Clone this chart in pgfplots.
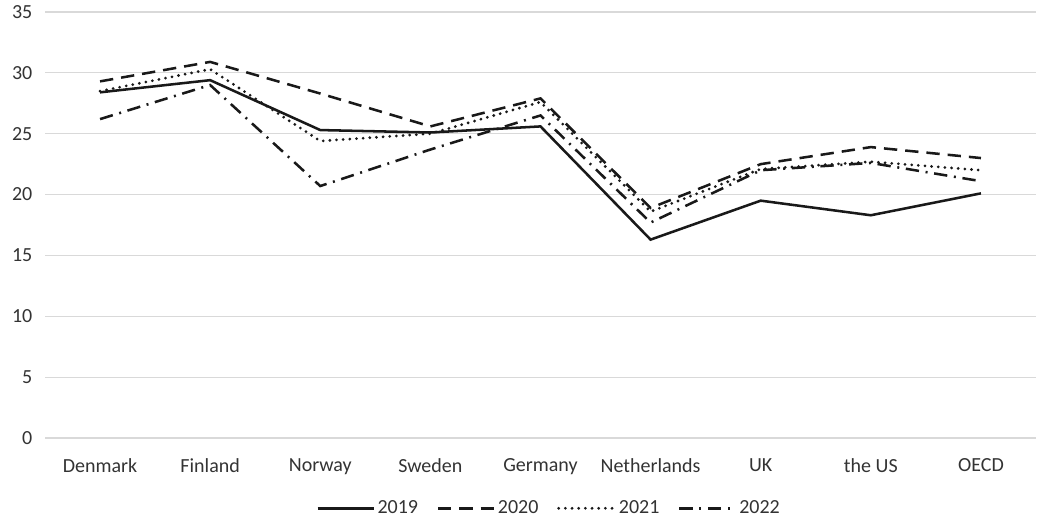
\documentclass[border=0pt]{standalone}
\usepackage{fontspec}
\setmainfont{Carlito}
\usepackage{pgfplots}
\pgfplotsset{compat=1.18}

\begin{document}
\begin{tikzpicture}
\useasboundingbox (-33.75pt,-63pt) rectangle (750pt,328.5pt);
\begin{axis}[
    scale only axis,
    width=743.25pt, height=319.5pt,
    xmin=-0.5, xmax=8.5,
    ymin=0, ymax=35,
    ytick={0,5,...,35},
    xtick={0,...,8},
    xticklabels={Denmark,Finland,Norway,Sweden,Germany,Netherlands,UK,the US,OECD},
    axis line style={draw=none},
    major tick length=0pt,
    ymajorgrids,
    grid style={draw=black!15, line width=0.9pt},
    tick label style={font=\fontsize{15}{17}\selectfont, text=black!80},
    yticklabel style={xshift=-6pt},
    xticklabel style={yshift=-12pt},
    /pgf/number format/assume math mode=true,
    legend columns=4,
    legend style={draw=none, at={(0.509,-0.165)}, anchor=center,
        font=\fontsize{15}{17}\selectfont, text=black!80,
        /tikz/every even column/.append style={column sep=12pt}},
    legend image code/.code={\draw[#1] (0pt,0pt) -- (42pt,0pt);},
    every axis plot/.append style={line width=1.9pt, black!90},
]
\addplot[solid] coordinates {(0,28.4) (1,29.4) (2,25.3) (3,25.1) (4,25.6) (5,16.3) (6,19.5) (7,18.3) (8,20.1)};
\addplot[dash pattern=on 10pt off 6pt] coordinates {(0,29.3) (1,30.9) (2,28.3) (3,25.6) (4,27.9) (5,18.9) (6,22.5) (7,23.9) (8,23.0)};
\addplot[line cap=round, dash pattern=on 0pt off 5pt, line width=2.3pt] coordinates {(0,28.5) (1,30.3) (2,24.4) (3,25.0) (4,27.6) (5,18.6) (6,22.1) (7,22.7) (8,22.0)};
\addplot[dash pattern=on 10pt off 5pt on 1.5pt off 5pt] coordinates {(0,26.2) (1,29.0) (2,20.7) (3,23.7) (4,26.5) (5,17.7) (6,22.0) (7,22.6) (8,21.1)};
\legend{2019,2020,2021,2022}
\end{axis}
\end{tikzpicture}
\end{document}
